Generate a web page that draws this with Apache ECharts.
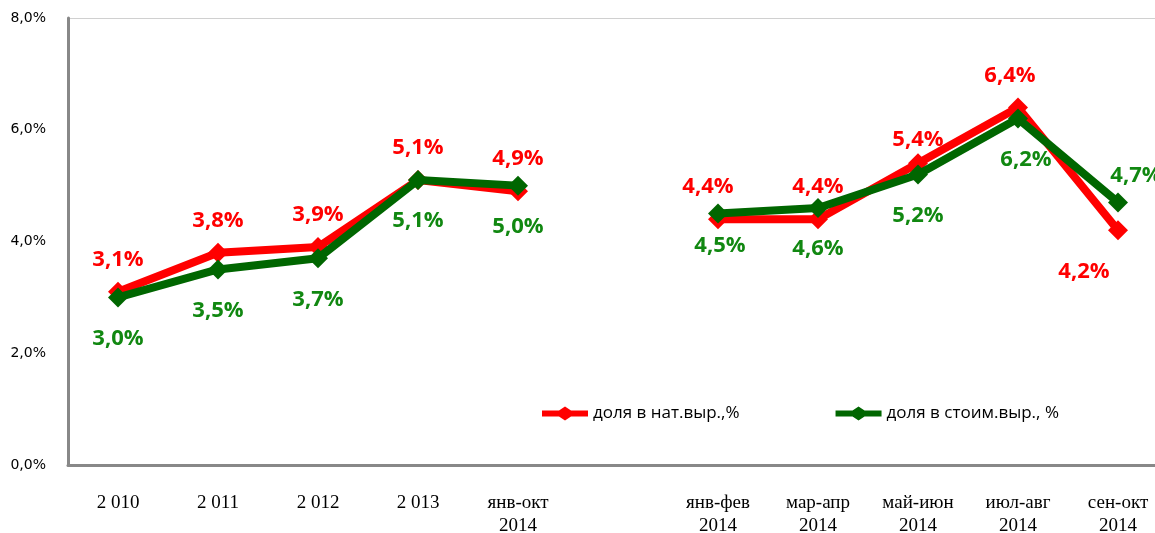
<!DOCTYPE html>
<html><head><meta charset="utf-8">
<script src="https://cdn.jsdelivr.net/npm/echarts@6/dist/echarts.min.js"></script>
<style>html,body{margin:0;padding:0;background:#fff;overflow:hidden}#c{width:1155px;height:533px}</style>
</head><body><div id="c"></div>
<script>
const categories = ['2 010', '2 011', '2 012', '2 013', 'янв-окт\n2014', '', 'янв-фев\n2014', 'мар-апр\n2014', 'май-июн\n2014', 'июл-авг\n2014', 'сен-окт\n2014'];
const natShare = [3.1, 3.8, 3.9, 5.1, 4.9, null, 4.4, 4.4, 5.4, 6.4, 4.2];
const costShare = [3.0, 3.5, 3.7, 5.1, 5.0, null, 4.5, 4.6, 5.2, 6.2, 4.7];
const seriesNames = ['доля в нат.выр.,%', 'доля в стоим.выр., %'];
const yTicks = [0, 2, 4, 6, 8];

const fmt = v => v.toFixed(1).replace('.', ',') + '%';
const labelFont = {fontFamily: 'Open Sans', fontWeight: 'bold', fontSize: 22};
const legendIcon = 'path://M0,4 L17,4 L23,0 L29,4 L46,4 L46,10 L29,10 L23,14 L17,10 L0,10 Z';

function mkData(arr, special) {
  return arr.map((v, i) => {
    if (v === null) return null;
    const o = {value: v};
    if (special[i]) o.label = special[i];
    return o;
  });
}

const chart = echarts.init(document.getElementById('c'));
chart.setOption({
  animation: false,
  backgroundColor: '#fff',
  grid: {left: 68, top: 18, width: 1100, height: 447, outerBoundsMode: 'none', containLabel: false},
  legend: {
    left: 537, top: 400, itemWidth: 46, itemHeight: 14, itemGap: 96,
    textStyle: {fontFamily: 'Open Sans', fontSize: 17, color: '#000'},
    data: seriesNames.map(n => ({name: n, icon: legendIcon}))
  },
  xAxis: {
    type: 'category', data: categories, boundaryGap: true,
    axisLine: {lineStyle: {color: '#888', width: 3}},
    axisTick: {show: false},
    axisLabel: {interval: 0, margin: 27, fontFamily: 'Liberation Serif', fontSize: 19, color: '#000', lineHeight: 23}
  },
  yAxis: {
    type: 'value', min: yTicks[0], max: yTicks[yTicks.length - 1], interval: 2,
    axisLine: {show: true, lineStyle: {color: '#888', width: 3}},
    axisTick: {show: false},
    splitLine: {show: true, lineStyle: {color: ['transparent', 'transparent', 'transparent', 'transparent', '#d0d0d0'], width: 1}},
    axisLabel: {margin: 22, fontFamily: 'DejaVu Sans', fontSize: 14, color: '#000', formatter: v => fmt(v)}
  },
  series: [
    {
      name: seriesNames[0], type: 'line',
      data: mkData(natShare, {
        10: {position: 'bottom', distance: 20, offset: [-34, 0]},
        6: {offset: [-10, 0]},
        8: {offset: [0, 8]},
        9: {offset: [-8, 0]}
      }),
      color: '#ff0000', lineStyle: {width: 8, color: '#ff0000'},
      symbol: 'diamond', symbolSize: 20, showAllSymbol: true,
      label: {show: true, position: 'top', distance: 11, color: '#ff0000', ...labelFont, formatter: p => fmt(p.value)},
      z: 2
    },
    {
      name: seriesNames[1], type: 'line',
      data: mkData(costShare, {
        10: {position: 'top', distance: 6, offset: [18, 0]},
        9: {offset: [8, 0]},
        6: {offset: [2, -9]}
      }),
      color: '#006600', lineStyle: {width: 8, color: '#006600'},
      symbol: 'diamond', symbolSize: 20, showAllSymbol: true,
      label: {show: true, position: 'bottom', distance: 20, color: '#118811', ...labelFont, formatter: p => fmt(p.value)},
      z: 3
    }
  ]
});
</script></body></html>
